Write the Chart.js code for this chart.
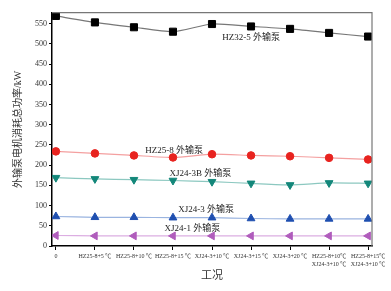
<!DOCTYPE html>
<html>
<head>
<meta charset="utf-8">
<script src="https://cdn.jsdelivr.net/npm/chart.js@4"></script>
<style>
  body { margin: 0; background: #fff; }
  #wrap { width: 391px; height: 291px; }
</style>
</head>
<body>
<div id="wrap"><canvas id="gongkuangChart"></canvas></div>
<script>
// tick labels van de x-as (工况)
var gongkuang = ['0', 'HZ25-8+5 ℃', 'HZ25-8+10 ℃', 'HZ25-8+15 ℃', 'XJ24-3+10 ℃', 'XJ24-3+15 ℃', 'XJ24-3+20 ℃',
  ['HZ25-8+10℃', 'XJ24-3+10 ℃'], ['HZ25-8+15℃', 'XJ24-3+10 ℃']];

// vermogen per pomp, kW
var hz325 = [569, 553, 541, 530, 549, 543, 537, 527, 518];
var hz258 = [234, 229, 224, 219, 227, 224, 222, 218, 214];
var xj243b = [169, 166, 164, 162, 159, 155, 151, 156, 155];
var xj243 = [73, 71, 71, 70, 70, 68, 67, 67, 67];
var xj241 = [26, 25, 25, 25, 25, 25, 25, 25, 25];

var reeksNamen = ['HZ32-5 外输泵', 'HZ25-8 外输泵', 'XJ24-3B 外输泵', 'XJ24-3 外输泵', 'XJ24-1 外输泵'];

function punten(arr) {
  return arr.map(function (v, i) { return { x: i, y: v }; });
}

var fontSerif = '"Liberation Serif", "Noto Sans CJK SC", serif';

// tekst bij elke lijn + grijze rand boven en rechts
var labelPlugin = {
  id: 'reeksLabels',
  afterDatasetsDraw: function (chart) {
    var ctx = chart.ctx;
    var xs = chart.scales.x, ys = chart.scales.y;
    var plek = [[5.0, 515], [3.03, 237], [3.7, 180], [3.85, 89], [3.5, 42]];
    ctx.save();
    ctx.font = '9px ' + fontSerif;
    ctx.fillStyle = '#222';
    ctx.textAlign = 'center';
    ctx.textBaseline = 'middle';
    reeksNamen.forEach(function (naam, i) {
      ctx.fillText(naam, xs.getPixelForValue(plek[i][0]), ys.getPixelForValue(plek[i][1]));
    });
    var a = chart.chartArea;
    ctx.strokeStyle = '#777';
    ctx.lineWidth = 1.2;
    ctx.beginPath();
    ctx.moveTo(a.left, a.top);
    ctx.lineTo(a.right, a.top);
    ctx.lineTo(a.right, a.bottom);
    ctx.stroke();
    ctx.restore();
  }
};

function maakGrafiek() {
  var data = {
    datasets: [{
      label: reeksNamen[0],
      data: punten(hz325),
      borderColor: '#777',
      backgroundColor: '#000',
      pointBorderColor: '#000',
      pointStyle: 'rect',
      pointRadius: 5
    }, {
      label: reeksNamen[1],
      data: punten(hz258),
      borderColor: '#f4a0a0',
      backgroundColor: '#e8231f',
      pointBorderColor: '#e8231f',
      pointStyle: 'circle',
      pointRadius: 3.8
    }, {
      label: reeksNamen[2],
      data: punten(xj243b),
      borderColor: '#8cc8c0',
      backgroundColor: '#13877a',
      pointBorderColor: '#13877a',
      pointStyle: 'triangle',
      pointRotation: 180,
      pointRadius: 4.5
    }, {
      label: reeksNamen[3],
      data: punten(xj243),
      borderColor: '#9ab4e0',
      backgroundColor: '#1f4fb0',
      pointBorderColor: '#1f4fb0',
      pointStyle: 'triangle',
      pointRadius: 4.5
    }, {
      label: reeksNamen[4],
      data: punten(xj241),
      borderColor: '#dcaee2',
      backgroundColor: '#b05cbc',
      pointBorderColor: '#b05cbc',
      pointStyle: 'triangle',
      pointRotation: 270,
      pointRadius: 4.5
    }]
  };

  var opties = {
    responsive: false,
    animation: false,
    layout: { padding: { top: 12.7, right: 19, left: 0, bottom: 0 } },
    elements: { line: { borderWidth: 1.2, tension: 0.2 }, point: { borderWidth: 1 } },
    plugins: { legend: { display: false }, tooltip: { enabled: false } },
    scales: {
      x: {
        type: 'linear',
        min: -0.1,
        max: 8.1,
        afterFit: function (s) { s.height = 45; },
        afterBuildTicks: function (s) {
          s.ticks = gongkuang.map(function (g, i) { return { value: i }; });
        },
        border: { color: '#000', width: 1.5 },
        grid: { drawOnChartArea: false, color: '#000', tickLength: 4 },
        ticks: {
          autoSkip: false,
          maxRotation: 0,
          padding: 2,
          color: '#333',
          font: { size: 6, family: fontSerif, lineHeight: 1.4 },
          callback: function (v) { return gongkuang[v]; }
        },
        title: {
          display: true,
          text: '工况',
          color: '#333',
          font: { size: 11, family: fontSerif },
          padding: { top: 0, bottom: 8 }
        }
      },
      y: {
        min: 0,
        max: 577,
        afterFit: function (s) { s.width = 52; },
        afterBuildTicks: function (s) {
          var t = [];
          for (var v = 0; v <= 575; v += 25) t.push({ value: v });
          s.ticks = t;
        },
        border: { color: '#000', width: 1.5 },
        grid: { drawOnChartArea: false, color: '#000', tickLength: 3 },
        ticks: {
          padding: 2,
          color: '#333',
          font: { size: 8, family: fontSerif },
          callback: function (v) { return v % 50 === 0 ? v : ''; }
        },
        title: {
          display: true,
          text: '外输泵电机消耗总功率/kW',
          color: '#333',
          font: { size: 10, family: fontSerif },
          padding: { top: 12, bottom: 0 }
        }
      }
    }
  };

  var ctx = document.getElementById('gongkuangChart').getContext('2d');
  var canvas = document.getElementById('gongkuangChart');
  canvas.width = 391;
  canvas.height = 291;
  return new Chart(ctx, { type: 'line', data: data, options: opties, plugins: [labelPlugin] });
}

maakGrafiek();
</script>
</body>
</html>
